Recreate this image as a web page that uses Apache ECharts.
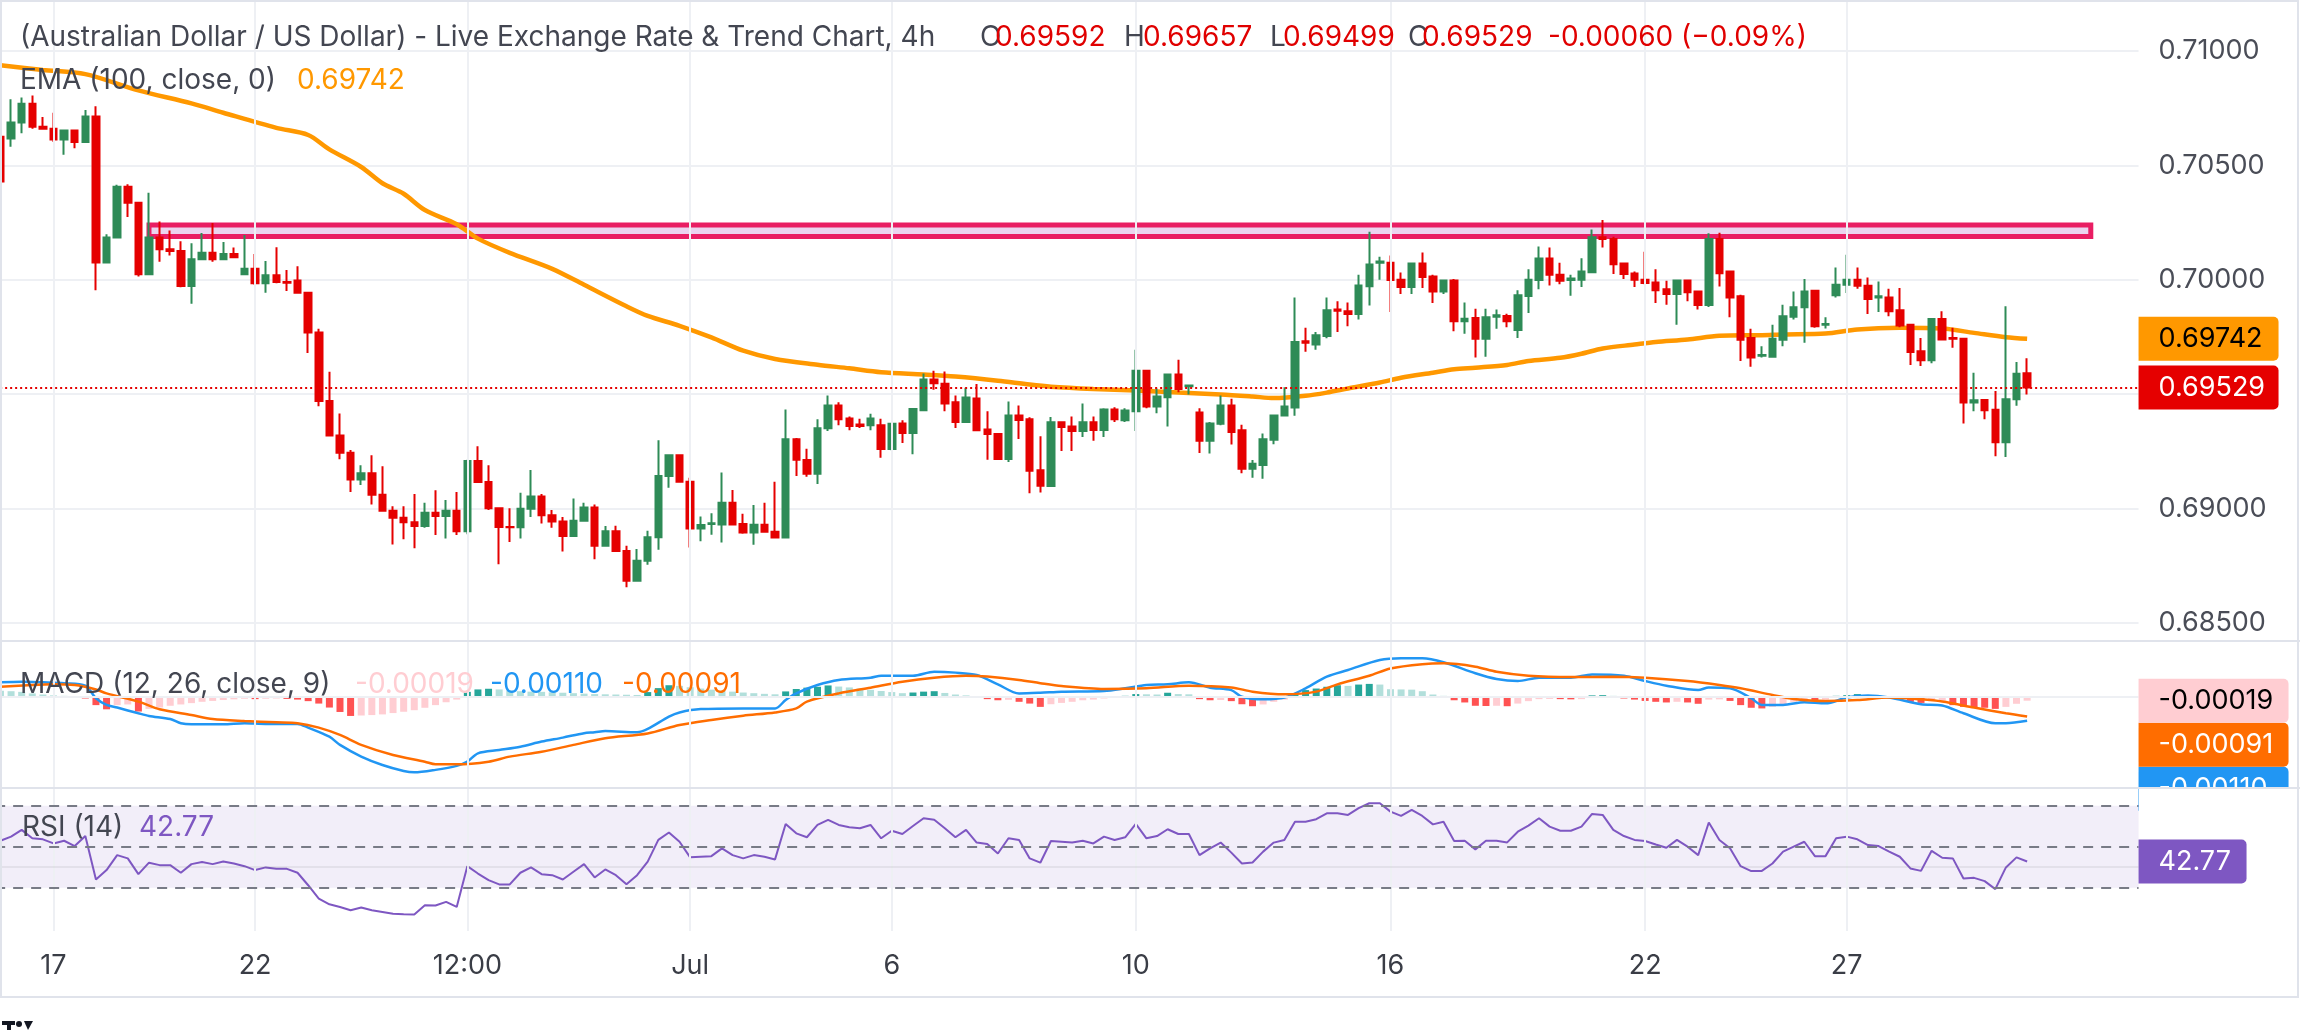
<!DOCTYPE html>
<html>
<head>
<meta charset="UTF-8">
<title>AUD/USD 4h</title>
<script src="https://cdn.jsdelivr.net/npm/echarts@6.0.0/dist/echarts.min.js"></script>
<style>
  html, body { margin: 0; padding: 0; background: #ffffff; }
  #main { width: 2300px; height: 1030px; }
</style>
</head>
<body>
<div id="main"></div>
<script>
// ---- values (4h bars, left to right) ----
var opens = [
  0.70625,0.70618,0.70688,0.70769,0.70669,0.70660,0.70613,0.70652,0.70602,0.70714,
  0.70076,0.70185,0.70407,0.70337,0.70024,0.70185,0.70134,0.70126,0.69973,0.70090,
  0.70118,0.70090,0.70113,0.70024,0.70048,0.69985,0.70020,0.69990,0.69997,0.69943,
  0.69770,0.69470,0.69319,0.69244,0.69127,0.69155,0.69061,0.68991,0.68960,0.68940,
  0.68924,0.68982,0.68968,0.68991,0.68901,0.69208,0.69116,0.69002,0.68920,0.68919,
  0.68999,0.69053,0.68971,0.68944,0.68880,0.68947,0.69005,0.68838,0.68901,0.68815,
  0.68685,0.68772,0.68875,0.69142,0.69233,0.69117,0.68913,0.68933,0.68930,0.69025,
  0.68933,0.68896,0.68929,0.68899,0.68874,0.69303,0.69212,0.69152,0.69351,0.69451,
  0.69394,0.69368,0.69364,0.69364,0.69261,0.69372,0.69330,0.69430,0.69564,0.69546,
  0.69465,0.69378,0.69481,0.69346,0.69326,0.69217,0.69407,0.69391,0.69168,0.69099,
  0.69377,0.69359,0.69339,0.69377,0.69343,0.69433,0.69386,0.69426,0.69603,0.69446,
  0.69487,0.69586,0.69535,0.69420,0.69296,0.69371,0.69451,0.69342,0.69174,0.69191,
  0.69301,0.69407,0.69442,0.69731,0.69717,0.69754,0.69870,0.69862,0.69851,0.69972,
  0.70075,0.70075,0.70000,0.69968,0.70071,0.70014,0.69949,0.69997,0.69819,0.69833,
  0.69742,0.69839,0.69842,0.69781,0.69929,0.69999,0.70093,0.70022,0.69999,0.70000,
  0.70033,0.70186,0.70178,0.70071,0.70028,0.70000,0.69988,0.69959,0.69938,0.69997,
  0.69949,0.69890,0.70178,0.70036,0.69928,0.69746,0.69668,0.69664,0.69738,0.69838,
  0.69880,0.69952,0.69804,0.69932,0.69978,0.70000,0.69974,0.69923,0.69923,0.69867,
  0.69804,0.69688,0.69648,0.69829,0.69746,0.69742,0.69464,0.69475,0.69432,0.69290,
  0.69478,0.69592
];
var highs = [
  0.70630,0.70789,0.70797,0.70805,0.70711,0.70730,0.70652,0.70655,0.70742,0.70758,
  0.70199,0.70415,0.70418,0.70341,0.70380,0.70255,0.70215,0.70168,0.70160,0.70204,
  0.70248,0.70165,0.70141,0.70196,0.70113,0.70082,0.70142,0.70043,0.70059,0.69943,
  0.69786,0.69598,0.69416,0.69256,0.69189,0.69233,0.69185,0.69010,0.69010,0.69064,
  0.69025,0.69080,0.69038,0.69072,0.69213,0.69272,0.69189,0.69002,0.69002,0.69069,
  0.69169,0.69064,0.68994,0.68963,0.69044,0.69025,0.69018,0.68924,0.68925,0.68838,
  0.68823,0.68903,0.69299,0.69238,0.69238,0.69135,0.68965,0.68980,0.69158,0.69081,
  0.68977,0.69016,0.69026,0.69117,0.69433,0.69309,0.69262,0.69390,0.69494,0.69465,
  0.69403,0.69393,0.69414,0.69393,0.69375,0.69386,0.69439,0.69591,0.69603,0.69599,
  0.69494,0.69528,0.69545,0.69426,0.69326,0.69468,0.69451,0.69399,0.69316,0.69400,
  0.69377,0.69403,0.69459,0.69403,0.69439,0.69443,0.69439,0.69694,0.69603,0.69525,
  0.69591,0.69651,0.69542,0.69439,0.69378,0.69494,0.69480,0.69367,0.69212,0.69328,
  0.69407,0.69530,0.69923,0.69790,0.69772,0.69923,0.69906,0.69901,0.70022,0.70210,
  0.70101,0.70106,0.70032,0.70071,0.70119,0.70022,0.70000,0.70004,0.69901,0.69874,
  0.69874,0.69870,0.69852,0.69954,0.70046,0.70145,0.70141,0.70075,0.70022,0.70094,
  0.70220,0.70261,0.70188,0.70075,0.70036,0.70123,0.70046,0.69996,0.69997,0.70000,
  0.69949,0.70203,0.70206,0.70036,0.69935,0.69786,0.69710,0.69804,0.69891,0.69949,
  0.70004,0.69957,0.69836,0.70054,0.70109,0.70054,0.70010,0.69993,0.69961,0.69964,
  0.69807,0.69746,0.69829,0.69862,0.69790,0.69746,0.69594,0.69478,0.69514,0.69884,
  0.69641,0.69657
];
var lows = [
  0.70425,0.70582,0.70641,0.70660,0.70657,0.70602,0.70547,0.70575,0.70598,0.69954,
  0.70071,0.70185,0.70274,0.70014,0.70020,0.70079,0.70106,0.69967,0.69895,0.70090,
  0.70079,0.70087,0.70095,0.70022,0.69978,0.69943,0.69985,0.69951,0.69943,0.69680,
  0.69447,0.69319,0.69216,0.69072,0.69103,0.69018,0.68991,0.68843,0.68866,0.68827,
  0.68916,0.68885,0.68869,0.68885,0.68888,0.69116,0.68994,0.68757,0.68854,0.68869,
  0.68963,0.68935,0.68916,0.68812,0.68880,0.68944,0.68779,0.68838,0.68815,0.68656,
  0.68682,0.68755,0.68820,0.69091,0.69113,0.68830,0.68857,0.68886,0.68852,0.68930,
  0.68890,0.68842,0.68899,0.68871,0.68870,0.69143,0.69139,0.69107,0.69339,0.69364,
  0.69342,0.69352,0.69342,0.69222,0.69255,0.69287,0.69238,0.69429,0.69519,0.69425,
  0.69352,0.69378,0.69339,0.69214,0.69212,0.69204,0.69304,0.69067,0.69070,0.69096,
  0.69252,0.69252,0.69313,0.69296,0.69313,0.69378,0.69378,0.69339,0.69439,0.69417,
  0.69359,0.69509,0.69499,0.69243,0.69241,0.69364,0.69280,0.69154,0.69135,0.69130,
  0.69281,0.69404,0.69406,0.69686,0.69694,0.69745,0.69772,0.69797,0.69826,0.69888,
  0.70000,0.69859,0.69938,0.69938,0.69964,0.69899,0.69938,0.69775,0.69764,0.69660,
  0.69664,0.69786,0.69793,0.69746,0.69855,0.69959,0.69975,0.69981,0.69930,0.69968,
  0.70032,0.70141,0.70025,0.70003,0.69968,0.69981,0.69899,0.69891,0.69804,0.69906,
  0.69870,0.69881,0.69971,0.69836,0.69645,0.69620,0.69660,0.69660,0.69710,0.69826,
  0.69725,0.69790,0.69787,0.69923,0.69942,0.69961,0.69851,0.69859,0.69841,0.69793,
  0.69628,0.69623,0.69635,0.69739,0.69703,0.69372,0.69425,0.69391,0.69229,0.69225,
  0.69449,0.69499
];
var closes = [
  0.70430,0.70688,0.70769,0.70669,0.70660,0.70613,0.70652,0.70602,0.70714,0.70076,
  0.70185,0.70407,0.70337,0.70024,0.70185,0.70134,0.70126,0.69973,0.70090,0.70118,
  0.70090,0.70113,0.70098,0.70048,0.69985,0.70020,0.69990,0.69987,0.69943,0.69770,
  0.69470,0.69319,0.69244,0.69127,0.69155,0.69061,0.68991,0.68960,0.68940,0.68924,
  0.68982,0.68968,0.68991,0.68901,0.69208,0.69116,0.69002,0.68920,0.68919,0.68999,
  0.69053,0.68971,0.68944,0.68880,0.68947,0.69005,0.68838,0.68901,0.68815,0.68685,
  0.68772,0.68875,0.69142,0.69233,0.69117,0.68913,0.68928,0.68936,0.69025,0.68930,
  0.68896,0.68929,0.68899,0.68874,0.69303,0.69213,0.69152,0.69351,0.69451,0.69391,
  0.69361,0.69361,0.69394,0.69261,0.69371,0.69330,0.69435,0.69564,0.69548,0.69459,
  0.69378,0.69486,0.69342,0.69326,0.69217,0.69407,0.69387,0.69165,0.69100,0.69377,
  0.69357,0.69339,0.69377,0.69343,0.69433,0.69391,0.69429,0.69603,0.69446,0.69490,
  0.69586,0.69523,0.69538,0.69296,0.69372,0.69451,0.69335,0.69174,0.69196,0.69303,
  0.69407,0.69446,0.69728,0.69725,0.69758,0.69867,0.69865,0.69851,0.69975,0.70067,
  0.70080,0.69999,0.69968,0.70071,0.70012,0.69949,0.69997,0.69819,0.69830,0.69742,
  0.69836,0.69845,0.69819,0.69932,0.70000,0.70093,0.70022,0.69996,0.70006,0.70036,
  0.70186,0.70178,0.70068,0.70025,0.70000,0.69986,0.69954,0.69938,0.69997,0.69946,
  0.69890,0.70178,0.70029,0.69923,0.69738,0.69660,0.69671,0.69742,0.69841,0.69880,
  0.69949,0.69797,0.69807,0.69978,0.70000,0.69974,0.69916,0.69928,0.69862,0.69800,
  0.69684,0.69648,0.69829,0.69739,0.69742,0.69464,0.69474,0.69430,0.69290,0.69478,
  0.69589,0.69529
];

// EMA(100) read at [bar, value]
var emaPts = [
  [0,0.70938],[4,0.70917],[8,0.70899],[13,0.70828],[18,0.70771],[21,0.70730],[26,0.70664],
  [29,0.70633],[31,0.70570],[34,0.70493],[36,0.70422],[38,0.70376],[40,0.70305],[43,0.70243],
  [45,0.70180],[48,0.70118],[52,0.70048],[55,0.69978],[59,0.69884],[61,0.69842],[64,0.69799],
  [67,0.69748],[70,0.69690],[73,0.69654],[77,0.69629],[80,0.69613],[83,0.69596],[87,0.69586],
  [90,0.69577],[94,0.69559],[97,0.69542],[99,0.69533],[103,0.69523],[107,0.69516],[111,0.69507],
  [115,0.69499],[118,0.69490],[120,0.69483],[123,0.69493],[125,0.69507],[127,0.69525],[130,0.69551],
  [132,0.69572],[135,0.69594],[137,0.69609],[139,0.69616],[142,0.69628],[144,0.69645],[147,0.69659],
  [149,0.69677],[151,0.69700],[154,0.69717],[156,0.69728],[159,0.69739],[162,0.69755],[166,0.69758],
  [168,0.69761],[172,0.69765],[175,0.69783],[179,0.69790],[183,0.69787],[186,0.69768],[189,0.69749],
  [191,0.69742]
];

// MACD (12,26,9) in units of 0.00001
var macdPts = [
  [0,64],[2,67],[4,64],[6,60],[8,49],[9,-8],[10,-38],[11,-50],[13,-76],[14,-88],[16,-102],[17,-121],
  [18,-126],[21,-126],[23,-121],[25,-124],[28,-124],[29,-141],[31,-182],[32,-219],[34,-272],[36,-310],
  [38,-337],[39,-343],[41,-332],[43,-314],[44,-295],[45,-257],[47,-242],[49,-227],[51,-204],[53,-186],
  [55,-166],[56,-162],[57,-156],[60,-162],[61,-147],[63,-91],[64,-72],[66,-57],[70,-54],[73,-54],
  [74,-16],[75,14],[77,52],[79,75],[82,85],[83,94],[86,94],[88,112],[90,108],[92,97],[94,55],[96,14],
  [98,17],[100,22],[104,25],[106,37],[108,52],[110,55],[112,64],[114,40],[116,29],[117,-1],[119,-13],
  [121,-5],[123,37],[125,90],[127,120],[130,165],[132,173],[134,173],[136,155],[139,105],[141,79],
  [143,70],[145,85],[148,85],[150,100],[153,94],[155,70],[157,49],[160,29],[161,41],[163,37],[165,-8],
  [166,-38],[168,-38],[170,-26],[172,-31],[174,-5],[176,4],[178,-5],[181,-35],[183,-41],[185,-76],
  [188,-121],[189,-121],[191,-110]
];
var signalPts = [
  [0,44],[3,52],[5,55],[7,52],[9,32],[10,14],[13,-23],[15,-58],[18,-84],[20,-102],[23,-111],[26,-117],
  [28,-121],[30,-141],[32,-174],[34,-219],[37,-265],[40,-295],[41,-307],[43,-307],[46,-295],[48,-272],
  [51,-250],[54,-219],[57,-189],[61,-167],[64,-129],[67,-106],[70,-87],[73,-72],[75,-54],[76,-23],
  [79,14],[82,40],[85,67],[88,85],[91,94],[93,90],[96,75],[98,60],[100,47],[104,34],[108,37],[112,49],
  [116,41],[118,22],[121,10],[124,22],[126,55],[129,94],[131,127],[134,146],[136,150],[139,135],
  [141,112],[144,94],[148,88],[152,89],[155,85],[159,70],[162,52],[164,37],[167,7],[169,-11],
  [172,-20],[175,-16],[178,-5],[181,-13],[183,-23],[186,-50],[189,-76],[191,-91]
];
var histVals = [
  26,24,21,14,9,5,3,-6,-9,-39,-58,-39,-36,-68,-56,-50,-42,-36,-30,-24,
  -20,-16,-13,-10,-12,-10,-9,-11,-14,-21,-32,-50,-70,-88,-86,-84,-81,-75,-69,-62,
  -51,-39,-26,-14,21,32,35,32,27,24,22,21,19,17,15,13,11,10,9,8,
  7,20,38,51,48,42,36,31,27,22,18,15,12,10,23,34,40,44,50,45,
  41,35,30,25,20,15,18,22,24,16,9,5,-6,-12,-17,-15,-24,-32,-47,-35,
  -29,-24,-17,-14,-9,-6,3,11,10,9,17,11,10,-12,-17,-16,-21,-35,-44,-36,
  -24,-14,9,29,36,44,51,48,54,57,54,33,32,31,24,9,3,-17,-27,-42,
  -43,-42,-44,-32,-21,-12,-11,-12,-13,-12,5,6,3,-9,-14,-20,-24,-27,-24,-27,
  -33,-14,-13,-20,-39,-51,-54,-47,-36,-24,-17,-21,-14,3,6,11,6,3,-6,-14,
  -24,-29,-21,-19,-39,-47,-50,-51,-56,-47,-33,-19
];

// RSI (14)
var rsiVals = [
  52.9,54.9,58.2,54.1,53.6,51.6,52.9,50.3,55.2,34.0,38.6,45.9,44.3,36.6,42.2,41.0,41.0,37.3,41.5,42.5,
  41.5,42.8,41.8,40.5,38.6,39.9,39.2,39.2,37.3,31.2,24.7,21.9,20.6,19.0,20.3,19.0,18.2,17.3,17.0,16.9,
  21.4,21.3,23.1,20.6,40.5,36.9,33.7,31.6,31.6,37.3,39.9,36.6,36.1,34.0,37.8,41.5,35.0,38.9,36.1,31.7,
  36.1,42.7,53.3,56.9,52.4,44.8,45.1,45.4,49.2,45.9,44.3,45.9,45.1,43.8,61.1,56.5,54.6,60.6,63.1,60.6,
  59.5,59.0,60.6,54.1,57.8,56.2,60.1,63.9,63.1,59.0,54.6,58.2,52.0,51.3,46.7,54.1,53.3,44.3,42.2,52.8,
  52.4,52.0,52.9,51.6,54.9,53.3,54.6,61.1,54.1,55.2,58.5,56.2,56.2,45.9,49.2,52.0,47.1,41.8,42.3,47.6,
  52.0,53.3,62.2,62.2,63.4,66.3,66.3,65.5,68.8,71.2,71.2,67.1,65.0,68.0,65.0,60.9,62.2,52.8,52.9,48.7,
  52.9,52.9,52.1,57.3,60.3,63.9,59.8,57.8,57.8,59.8,66.0,65.5,58.2,55.2,53.3,52.8,51.1,49.5,53.3,50.0,
  45.9,61.8,53.3,49.2,40.5,38.1,38.2,41.8,47.6,50.0,52.4,45.4,45.4,54.1,54.9,53.6,50.8,50.3,47.6,45.1,
  39.4,38.2,48.0,44.6,44.3,34.5,34.8,33.2,29.3,39.9,44.8,42.77
];

// time axis ticks (bar index -> label)
var tickIdx  = [5, 24, 44, 65, 84, 107, 131, 155, 174];
var tickText = ['17', '22', '12:00', 'Jul', '6', '10', '16', '22', '27'];

// resistance zone drawn on the chart: bars and price bounds
var zoneBars  = [14, 197];
var zonePrice = [0.70239, 0.70189];

// RSI guide levels
var rsiLevels = [70, 50, 30];

// ---- layout / style ----
var NCAT = 202;                       // bars + empty right margin
var PLOT_L = -4.86, PLOT_W = 2143.4;
var UP = '#2e8b57', DOWN = '#e50000';
var GREY = '#434651', AXIS_TXT = '#4a4d57';
var GRIDC = '#eef0f4';
var FONT = 'Inter, Roboto, sans-serif';
var LEG_SIZE = 28, AX_SIZE = 27;
var LAST = opens.length - 1;

var cats = [];
for (var i = 0; i < NCAT; i++) cats.push(String(i));

function f5(v) { return v.toFixed(5); }

function boxLabel(text, bg, fg, w, dy) {
  return {
    show: true, position: 'end', distance: 0, formatter: text,
    backgroundColor: bg, color: fg, fontFamily: FONT, fontSize: AX_SIZE,
    width: w, height: 44, lineHeight: 44, padding: [0, 0, 0, 20],
    borderRadius: [0, 5, 5, 0], align: 'left', verticalAlign: 'middle',
    offset: [0, dy || 0]
  };
}
function hidden() { return { color: 'rgba(0,0,0,0)', width: 1 }; }

function vlines() {
  return tickIdx.map(function (t) { return { xAxis: t }; });
}

function buildOption(dy) {
  var candleData = opens.map(function (o, i) { return [o, closes[i], lows[i], highs[i]]; });
  var histData = histVals.map(function (v, i) {
    var prev = i > 0 ? histVals[i - 1] : v + 1;
    var c;
    if (v >= 0) c = v > prev ? '#26a69a' : '#b2dfdb';
    else c = v < prev ? '#ff5252' : '#ffcdd2';
    return { value: v * 1e-5, itemStyle: { color: c } };
  });
  var toUnit = function (p) { return [p[0], p[1] * 1e-5]; };
  var histLast = histVals[LAST] * 1e-5;
  var macdLast = macdPts[macdPts.length - 1][1] * 1e-5;
  var sigLast = signalPts[signalPts.length - 1][1] * 1e-5;

  var xAxes = [0, 1, 2].map(function (k) {
    return {
      type: 'category', gridIndex: k, data: cats, boundaryGap: true,
      axisLine: { show: false }, axisTick: { show: false }, splitLine: { show: false },
      axisLabel: {
        show: k === 2, margin: 21, color: '#3a3d46', fontFamily: FONT, fontSize: AX_SIZE,
        interval: function (idx) { return tickIdx.indexOf(idx) >= 0; },
        formatter: function (val, idx) {
          var j = tickIdx.indexOf(idx);
          return j >= 0 ? tickText[j] : '';
        }
      }
    };
  });

  var markBase = {
    silent: true, symbol: ['none', 'none'], emphasis: { disabled: true },
    animation: false, precision: 8
  };

  return {
    animation: false,
    backgroundColor: '#ffffff',
    grid: [
      { left: PLOT_L, width: PLOT_W, top: 0, height: 641, outerBoundsMode: 'none' },
      { left: PLOT_L, width: PLOT_W, top: 641, height: 147, outerBoundsMode: 'none' },
      { left: PLOT_L, width: PLOT_W, top: 788, height: 143, outerBoundsMode: 'none' }
    ],
    xAxis: xAxes,
    yAxis: [
      {
        type: 'value', gridIndex: 0, position: 'right', min: 0.684213, max: 0.712229, splitNumber: 5,
        axisLine: { show: false }, axisTick: { show: false },
        splitLine: { lineStyle: { color: GRIDC, width: 2 } },
        axisLabel: {
          showMinLabel: false, showMaxLabel: false, margin: 20, formatter: f5,
          color: AXIS_TXT, fontFamily: FONT, fontSize: AX_SIZE
        }
      },
      {
        type: 'value', gridIndex: 1, position: 'right', min: -0.00414, max: 0.002511,
        axisLine: { show: false }, axisTick: { show: false }, axisLabel: { show: false },
        splitLine: { show: false }
      },
      {
        type: 'value', gridIndex: 2, position: 'right', min: 8.88, max: 78.63,
        axisLine: { show: false }, axisTick: { show: false }, axisLabel: { show: false },
        splitLine: { show: false }
      }
    ],
    series: [
      // vertical grid lines, price pane
      {
        type: 'line', xAxisIndex: 0, yAxisIndex: 0, data: [], z: 1,
        markLine: Object.assign({}, markBase, {
          label: { show: false }, lineStyle: { color: GRIDC, width: 2, type: 'solid' }, data: vlines()
        })
      },
      // vertical grid lines + zero line, MACD pane
      {
        type: 'line', xAxisIndex: 1, yAxisIndex: 1, data: [], z: 1,
        markLine: Object.assign({}, markBase, {
          label: { show: false }, lineStyle: { color: GRIDC, width: 2, type: 'solid' },
          data: vlines().concat([{ yAxis: 0 }])
        })
      },
      // vertical grid lines, RSI band and levels
      {
        type: 'line', xAxisIndex: 2, yAxisIndex: 2, data: [], z: 1,
        markArea: {
          silent: true, itemStyle: { color: 'rgba(126,87,194,0.10)' },
          data: [[{ yAxis: rsiLevels[0] }, { yAxis: rsiLevels[2] }]]
        },
        markLine: Object.assign({}, markBase, {
          label: { show: false }, lineStyle: { color: GRIDC, width: 2, type: 'solid' },
          data: vlines().concat([{ yAxis: 40, lineStyle: { color: 'rgba(120,123,134,0.12)', width: 2, type: 'solid' } }])
            .concat(rsiLevels.map(function (l) {
              return { yAxis: l, lineStyle: { color: '#787b86', width: 2, type: [10, 8] } };
            }))
        })
      },
      // resistance zone
      {
        type: 'custom', xAxisIndex: 0, yAxisIndex: 0, z: 2, silent: true,
        encode: { x: [0, 1], y: [2, 3] },
        data: [[zoneBars[0], zoneBars[1], zonePrice[0], zonePrice[1]]],
        renderItem: function (params, api) {
          var p1 = api.coord([api.value(0), api.value(2)]);
          var p2 = api.coord([api.value(1), api.value(3)]);
          return {
            type: 'rect',
            shape: { x: p1[0], y: p1[1], width: p2[0] - p1[0], height: p2[1] - p1[1] },
            style: { fill: 'rgba(156,39,176,0.2)', stroke: '#e91e63', lineWidth: 5 }
          };
        }
      },
      // EMA 100
      {
        type: 'line', name: 'EMA', xAxisIndex: 0, yAxisIndex: 0, z: 3,
        data: emaPts, showSymbol: false, smooth: 0.3,
        lineStyle: { color: '#ff9800', width: 4.5 },
        markLine: Object.assign({}, markBase, {
          lineStyle: hidden(),
          data: [{ yAxis: emaPts[emaPts.length - 1][1], label: boxLabel(f5(emaPts[emaPts.length - 1][1]), '#ff9800', '#000000', 120) }]
        })
      },
      // candles
      {
        type: 'candlestick', xAxisIndex: 0, yAxisIndex: 0, z: 4,
        data: candleData, barWidth: 7,
        itemStyle: { color: UP, color0: DOWN, borderColor: UP, borderColor0: DOWN, borderWidth: 2 },
        markLine: Object.assign({}, markBase, {
          data: [{
            yAxis: closes[LAST],
            lineStyle: { color: DOWN, width: 2, type: [2, 3] },
            label: boxLabel(f5(closes[LAST]), DOWN, '#ffffff', 120)
          }]
        })
      },
      // MACD histogram
      {
        type: 'bar', xAxisIndex: 1, yAxisIndex: 1, z: 2, barWidth: 7,
        data: histData
      },
      {
        type: 'line', xAxisIndex: 1, yAxisIndex: 1, z: 3, data: macdPts.map(toUnit),
        showSymbol: false, smooth: 0.3, lineStyle: { color: '#2196f3', width: 2.5 }
      },
      {
        type: 'line', xAxisIndex: 1, yAxisIndex: 1, z: 3, data: signalPts.map(toUnit),
        showSymbol: false, smooth: 0.3, lineStyle: { color: '#ff6d00', width: 2.5 }
      },
      // MACD value boxes
      {
        type: 'line', xAxisIndex: 1, yAxisIndex: 1, data: [], z: 10,
        markLine: Object.assign({}, markBase, {
          lineStyle: hidden(),
          data: [
            { yAxis: macdLast, label: boxLabel(f5(macdLast), '#2196f3', '#ffffff', 130, dy[2]) },
            { yAxis: sigLast, label: boxLabel(f5(sigLast), '#ff6d00', '#ffffff', 130, dy[1]) },
            { yAxis: histLast, label: boxLabel(f5(histLast), '#ffcdd2', '#000000', 130, dy[0]) }
          ]
        })
      },
      // RSI
      {
        type: 'line', xAxisIndex: 2, yAxisIndex: 2, z: 3, data: rsiVals,
        showSymbol: false, lineStyle: { color: '#7e57c2', width: 2 },
        markLine: Object.assign({}, markBase, {
          lineStyle: hidden(),
          data: [{ yAxis: rsiVals[LAST], label: boxLabel(rsiVals[LAST].toFixed(2), '#7e57c2', '#ffffff', 88) }]
        })
      }
    ],
    graphic: buildGraphic(histLast, macdLast, sigLast)
  };
}

function txt(x, y, s, color) {
  return {
    type: 'text', x: x, y: y, z: 100, silent: true,
    style: { text: s, fill: color, font: LEG_SIZE + 'px ' + FONT, verticalAlign: 'middle' }
  };
}

function buildGraphic(histLast, macdLast, sigLast) {
  var RED = '#e00000';
  var LOGO = '#131722';
  var chg = closes[LAST] - closes[LAST - 1];
  var pct = chg / closes[LAST - 1] * 100;
  return [
    // clip the overflowing MACD box at the pane border
    { type: 'rect', z: 90, silent: true, shape: { x: 2139, y: 789, width: 161, height: 40 }, style: { fill: '#ffffff' } },
    // pane separators and frame
    { type: 'line', z: 95, silent: true, shape: { x1: 0, y1: 641, x2: 2300, y2: 641 }, style: { stroke: '#e0e3eb', lineWidth: 2 } },
    { type: 'line', z: 95, silent: true, shape: { x1: 0, y1: 788, x2: 2300, y2: 788 }, style: { stroke: '#e0e3eb', lineWidth: 2 } },
    { type: 'rect', z: 95, silent: true, shape: { x: 1, y: 1, width: 2297, height: 996 }, style: { fill: 'none', stroke: '#e0e3eb', lineWidth: 2 } },
    // cut-off logo at the bottom-left corner
    { type: 'rect', z: 95, silent: true, shape: { x: 2, y: 1021, width: 13, height: 4 }, style: { fill: LOGO } },
    { type: 'rect', z: 95, silent: true, shape: { x: 7, y: 1021, width: 4, height: 9 }, style: { fill: LOGO } },
    { type: 'circle', z: 95, silent: true, shape: { cx: 19, cy: 1024, r: 3 }, style: { fill: LOGO } },
    { type: 'polygon', z: 95, silent: true, shape: { points: [[24, 1021], [33, 1021], [28, 1030]] }, style: { fill: LOGO } },

    txt(20, 38, '(Australian Dollar / US Dollar) - Live Exchange Rate & Trend Chart, 4h', GREY),
    txt(980, 38, 'O', GREY), txt(995, 38, f5(opens[LAST]), RED),
    txt(1124, 38, 'H', GREY), txt(1143, 38, f5(highs[LAST]), RED),
    txt(1270, 38, 'L', GREY), txt(1283, 38, f5(lows[LAST]), RED),
    txt(1408, 38, 'C', GREY), txt(1422, 38, f5(closes[LAST]), RED),
    txt(1548, 38, (chg < 0 ? '-' : '+') + f5(Math.abs(chg)) + ' (' + (pct < 0 ? '\u2212' : '+') + Math.abs(pct).toFixed(2) + '%)', RED),

    txt(20, 81, 'EMA (100, close, 0)', GREY),
    txt(297, 81, f5(emaPts[emaPts.length - 1][1]), '#ff9800'),

    txt(20, 685, 'MACD (12, 26, close, 9)', GREY),
    txt(355, 685, f5(histLast), '#ffcdd2'),
    txt(490, 685, f5(macdLast), '#2196f3'),
    txt(622, 685, f5(sigLast), '#ff6d00'),

    txt(22, 828, 'RSI (14)', GREY),
    txt(139, 828, rsiVals[LAST].toFixed(2), '#7e57c2')
  ];
}

var chart = echarts.init(document.getElementById('main'), null, { renderer: 'canvas' });
chart.setOption(buildOption([0, 0, 0]));

// stack the MACD value boxes on the right axis like the original
var BOX = 44;
var yh = chart.convertToPixel({ yAxisIndex: 1 }, histVals[LAST] * 1e-5);
var ys = chart.convertToPixel({ yAxisIndex: 1 }, signalPts[signalPts.length - 1][1] * 1e-5);
var ym = chart.convertToPixel({ yAxisIndex: 1 }, macdPts[macdPts.length - 1][1] * 1e-5);
var p1 = Math.max(ys, yh + BOX);
var p2 = Math.max(ym, p1 + BOX);
chart.setOption(buildOption([0, p1 - ys, p2 - ym]), true);
</script>
</body>
</html>
